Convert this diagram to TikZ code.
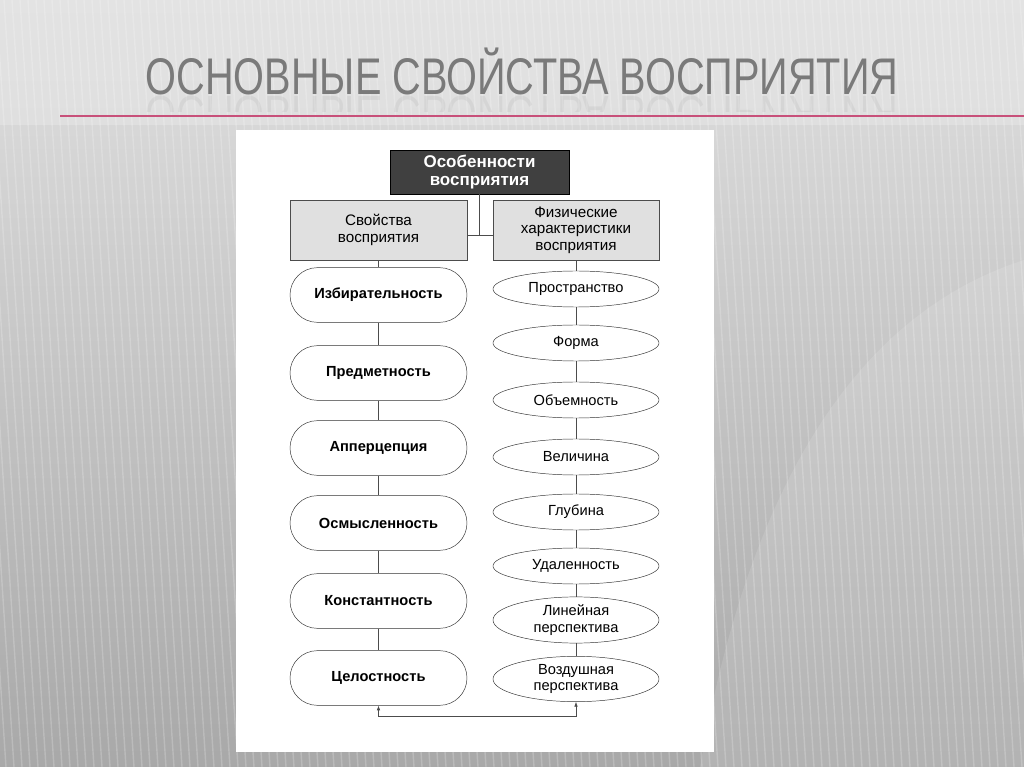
\documentclass[tikz,border=0pt]{standalone}
\usepackage{fontspec}
\setmainfont{Liberation Sans}
\usetikzlibrary{positioning,arrows.meta,shapes.geometric}

\tikzset{
	headbox/.style={draw=black!70,fill=black!12,minimum width=5.31cm,minimum height=1.8cm,align=center,font=\fontsize{13}{14.2}\selectfont},
	propbox/.style={draw=black!80,fill=white,rounded corners=0.82cm,minimum width=5.31cm,minimum height=1.64cm,font=\fontsize{12.5}{14}\selectfont\bfseries},
	physbox/.style={draw=black!80,fill=white,ellipse,minimum width=4.98cm,minimum height=1.08cm,inner sep=1pt,align=center,font=\fontsize{12.5}{14}\selectfont},
	link/.style={draw=black!70,line width=0.5pt}
}

\begin{document}
\begin{tikzpicture}[x=0.03cm,y=-0.03cm]
	% Background of slide
	\useasboundingbox (0,0) rectangle (1024,767);
	\shade[top color=black!12,bottom color=black!34] (0,0) rectangle (1024,767);
	\fill[black!10,opacity=0.6] (0,0) rectangle (1024,125);
	\foreach \x in {-60,-52,...,1024}
		\draw[white,opacity=0.2,line width=1.2pt] (\x,0) -- (\x+50,767);
	\fill[white,opacity=0.12] (700,767) .. controls (760,420) and (900,300) .. (1024,260) -- (1024,767) -- cycle;

	% Title
	\node[anchor=base,text=black!52,xscale=0.77,font=\fontsize{44}{44}\selectfont] (title) at (522,95) {ОСНОВНЫЕ СВОЙСТВА ВОСПРИЯТИЯ};
	\begin{scope}
		\clip (100,96) rectangle (1000,112);
		\node[anchor=base,text=black!52,opacity=0.1,xscale=0.77,yscale=-1,font=\fontsize{44}{44}\selectfont] (mirror) at (522,97) {ОСНОВНЫЕ СВОЙСТВА ВОСПРИЯТИЯ};
	\end{scope}
	\draw[color={rgb,255:red,200;green,80;blue,122},line width=1.6pt] (60,116) -- (1024,116);

	% Panel with the scheme
	\fill[white] (236,130) rectangle (714,752);

	% Heads
	\node[draw=black,fill=black!75,text=white,minimum width=5.37cm,minimum height=1.32cm,align=center,font=\fontsize{14.5}{16}\selectfont\bfseries] (top) at (479.5,172) {Особенности\\восприятия};
	\node[headbox] (props) at (378.5,230) {Свойства\\восприятия};
	\node[headbox,minimum width=4.98cm] (phys) at (576,230) {Физические\\характеристики\\восприятия};
	\coordinate (fork) at (479.5,235);
	\draw[link] (top.south) -- (fork);
	\draw[link] (props.east |- fork) -- (phys.west |- fork);

	% Properties of perception
	\node[propbox] (sel) at (378.5,295) {Избирательность};
	\node[propbox] (obj) at (378.5,373) {Предметность};
	\node[propbox] (apperc) at (378.5,448) {Апперцепция};
	\node[propbox] (sense) at (378.5,523) {Осмысленность};
	\node[propbox] (const) at (378.5,601) {Константность};
	\node[propbox] (whole) at (378.5,678) {Целостность};
	\draw[link] (props) -- (sel) -- (obj) -- (apperc) -- (sense) -- (const) -- (whole);

	% Physical characteristics
	\node[physbox] (space) at (576,289) {Пространство};
	\node[physbox] (form) at (576,343) {Форма};
	\node[physbox] (volume) at (576,400) {Объемность};
	\node[physbox] (size) at (576,457) {Величина};
	\node[physbox] (depth) at (576,512) {Глубина};
	\node[physbox] (dist) at (576,566) {Удаленность};
	\node[physbox,minimum height=1.26cm] (linear) at (576,620) {Линейная\\перспектива};
	\node[physbox,minimum height=1.36cm] (air) at (576,679) {Воздушная\\перспектива};
	\draw[link] (phys) -- (space) -- (form) -- (volume) -- (size) -- (depth) -- (dist) -- (linear) -- (air);

	% Feedback line
	\draw[link,{Latex[length=4pt,width=3pt]}-{Latex[length=4pt,width=3pt]}] (whole.south) -- ([yshift=-0.33cm]whole.south) -| (air.south);
\end{tikzpicture}
\end{document}
